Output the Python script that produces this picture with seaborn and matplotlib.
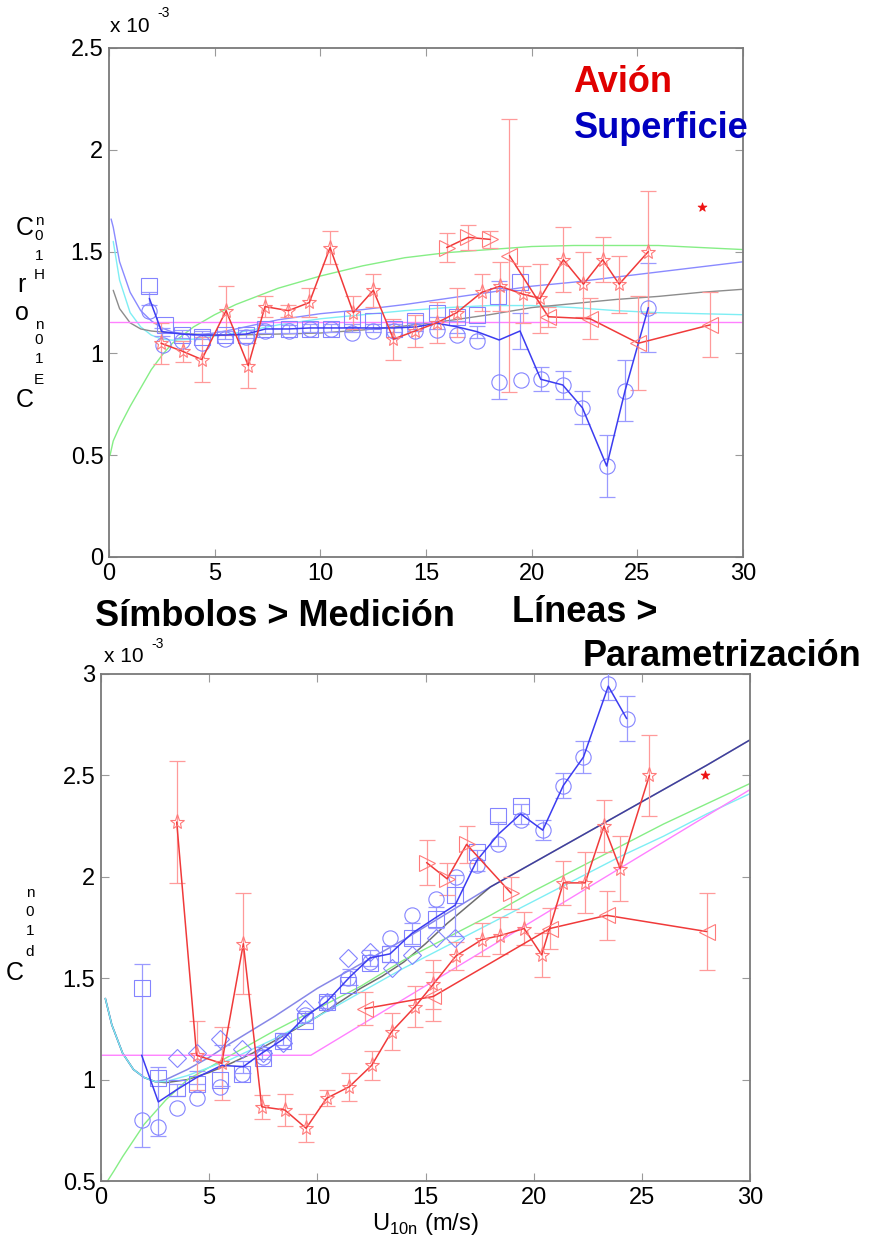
import matplotlib
matplotlib.use("Agg")
import matplotlib.pyplot as plt
import seaborn as sns

# ---------------- upper panel: C_H / C_E (x 1e-3) ----------------
top_star_x = [2.46, 3.49, 4.39, 5.54, 6.59, 7.38, 8.49, 9.48, 10.46, 11.56, 12.51, 13.46,
              14.48, 15.51, 16.45, 17.64, 18.50, 19.61, 20.40, 21.50, 22.45, 23.36, 24.14, 25.52]
top_star_y = [1.05, 1.01, 0.97, 1.21, 0.94, 1.23, 1.21, 1.25, 1.52, 1.20, 1.31, 1.07,
              1.11, 1.15, 1.20, 1.30, 1.33, 1.29, 1.27, 1.46, 1.34, 1.46, 1.34, 1.50]
top_star_err = [0.10, 0.05, 0.11, 0.12, 0.11, 0.05, 0.03, 0.07, 0.08, 0.08, 0.08, 0.10,
                0.08, 0.10, 0.12, 0.09, 0.12, 0.14, 0.17, 0.16, 0.16, 0.11, 0.14, 0.30]

top_rtri_x = [15.98, 17.00, 18.03]
top_rtri_y = [1.52, 1.57, 1.56]
top_rtri_err = [0.07, 0.06, 0.04]

top_ltri_x = [18.95, 20.79, 22.77, 25.05, 28.44]
top_ltri_y = [1.48, 1.18, 1.17, 1.05, 1.14]
top_ltri_err = [0.67, 0.05, 0.10, 0.23, 0.16]

top_circ_x = [1.91, 2.57, 3.44, 4.39, 5.50, 6.50, 7.40, 8.50, 9.50, 10.50, 11.50, 12.50, 13.50,
              14.50, 15.50, 16.45, 17.43, 18.46, 19.48, 20.43, 21.47, 22.40, 23.55, 24.42, 25.52]
top_circ_y = [1.21, 1.04, 1.06, 1.05, 1.07, 1.08, 1.11, 1.11, 1.12, 1.12, 1.10, 1.11, 1.11,
              1.11, 1.115, 1.09, 1.06, 0.86, 0.87, 0.873, 0.845, 0.733, 0.447, 0.817, 1.225]

top_sq_x = [1.91, 2.65, 3.44, 4.39, 5.50, 6.50, 7.40, 8.50, 9.50, 10.50, 11.49, 12.50,
            13.50, 14.50, 15.50, 16.45, 17.43, 18.42, 19.45]
top_sq_y = [1.33, 1.14, 1.09, 1.08, 1.09, 1.09, 1.12, 1.12, 1.12, 1.12, 1.17, 1.16,
            1.12, 1.16, 1.20, 1.18, 1.19, 1.28, 1.35]

top_bline_x = [1.91, 2.49, 3.44, 4.39, 5.50, 6.50, 7.40, 8.50, 9.50, 10.50, 11.50, 12.50, 13.50,
               14.50, 15.51, 16.45, 17.40, 18.46, 19.45, 20.43, 21.47, 22.40, 23.55, 24.42, 25.52]
top_bline_y = [1.27, 1.107, 1.095, 1.09, 1.09, 1.095, 1.12, 1.12, 1.125, 1.125, 1.125, 1.125, 1.125,
               1.13, 1.148, 1.131, 1.107, 1.066, 1.11, 0.873, 0.845, 0.733, 0.447, 0.817, 1.225]
top_bline_err = [0.03, 0.02, 0.02, 0.02, 0.02, 0.02, 0.02, 0.02, 0.02, 0.02, 0.02, 0.02, 0.02,
                 0.02, 0.03, 0.03, 0.03, 0.29, 0.09, 0.06, 0.07, 0.08, 0.15, 0.15, 0.22]

top_green_x = [0.05, 0.2, 0.5, 1, 1.5, 2, 2.5, 3, 4, 5, 6, 8, 10, 12, 14, 16, 18, 20, 22, 24, 26, 28, 30]
top_green_y = [0.50, 0.57, 0.64, 0.74, 0.83, 0.92, 0.99, 1.05, 1.13, 1.19, 1.24, 1.32, 1.38, 1.43,
               1.47, 1.495, 1.51, 1.525, 1.53, 1.53, 1.53, 1.52, 1.51]
top_blue_x = [0.1, 0.2, 0.5, 1, 1.5, 2, 2.5, 3, 4, 5, 6, 8, 10, 12, 14, 16, 18, 20, 22, 24, 26, 28, 30]
top_blue_y = [1.66, 1.62, 1.45, 1.30, 1.21, 1.16, 1.125, 1.105, 1.09, 1.10, 1.12, 1.165, 1.195,
              1.215, 1.24, 1.27, 1.30, 1.33, 1.35, 1.375, 1.40, 1.425, 1.45]
top_cyan_x = [0.2, 0.5, 1, 1.5, 2, 2.5, 3, 4, 5, 6, 8, 10, 12, 14, 16, 18, 20, 22, 24, 26, 28, 30]
top_cyan_y = [1.55, 1.36, 1.20, 1.13, 1.09, 1.07, 1.065, 1.07, 1.085, 1.10, 1.14, 1.17, 1.19,
              1.21, 1.225, 1.235, 1.235, 1.225, 1.21, 1.20, 1.195, 1.19]
top_gray_x = [0.2, 0.5, 1, 1.5, 2, 3, 4, 5, 6, 8, 10, 12, 14, 16, 18, 20, 22, 24, 26, 28, 30]
top_gray_y = [1.31, 1.22, 1.15, 1.12, 1.11, 1.10, 1.095, 1.09, 1.09, 1.095, 1.10, 1.115, 1.135,
              1.16, 1.19, 1.225, 1.245, 1.265, 1.28, 1.30, 1.315]
top_mag_x = [0.05, 30]
top_mag_y = [1.155, 1.155]

top_single = ([28.06], [1.72])

# ---------------- lower panel: C_D (x 1e-3) ----------------
bot_star_x = [3.50, 4.42, 5.58, 6.58, 7.43, 8.50, 9.48, 10.43, 11.48, 12.51, 13.44, 14.52,
              15.36, 16.41, 17.60, 18.45, 19.56, 20.37, 21.37, 22.38, 23.25, 24.00, 25.35]
bot_star_y = [2.27, 1.12, 1.08, 1.67, 0.866, 0.85, 0.76, 0.908, 0.965, 1.07, 1.237, 1.36,
              1.47, 1.61, 1.69, 1.71, 1.745, 1.615, 1.97, 1.97, 2.25, 2.04, 2.50]
bot_star_err = [0.30, 0.17, 0.18, 0.25, 0.06, 0.08, 0.07, 0.04, 0.07, 0.07, 0.09, 0.10,
                0.12, 0.07, 0.08, 0.09, 0.08, 0.11, 0.11, 0.15, 0.13, 0.16, 0.20]

bot_rtri_x = [15.05, 16.00, 16.90, 18.95]
bot_rtri_y = [2.07, 1.99, 2.16, 1.92]
bot_rtri_err = [0.11, 0.08, 0.09, 0.08]

bot_ltri_x = [12.20, 15.36, 20.75, 23.38, 28.00]
bot_ltri_y = [1.35, 1.41, 1.745, 1.81, 1.73]
bot_ltri_err = [0.08, 0.12, 0.10, 0.12, 0.19]

bot_bline_x = [1.88, 2.65, 3.50, 4.42, 5.58, 6.58, 7.43, 8.43, 9.43, 10.43, 11.51, 12.43,
               13.36, 14.36, 15.49, 16.37, 17.37, 18.37, 19.40, 20.42, 21.37, 22.30, 23.45, 24.30]
bot_bline_y = [1.12, 0.89, 0.95, 1.01, 1.07, 1.064, 1.13, 1.20, 1.31, 1.384, 1.507, 1.60,
               1.62, 1.72, 1.80, 1.86, 2.08, 2.21, 2.31, 2.23, 2.45, 2.59, 2.94, 2.78]
bot_bline_err = [0.45, 0.17, 0.03, 0.03, 0.10, 0.03, 0.03, 0.03, 0.03, 0.03, 0.04, 0.04,
                 0.04, 0.05, 0.05, 0.15, 0.05, 0.06, 0.05, 0.05, 0.06, 0.08, 0.07, 0.11]

bot_circ_x = [1.88, 2.65, 3.50, 4.42, 5.50, 6.50, 7.50, 8.43, 9.43, 10.43, 11.43, 12.43,
              13.36, 14.36, 15.49, 16.41, 17.40, 18.37, 19.40, 20.42, 21.37, 22.30, 23.45, 24.30]
bot_circ_y = [0.80, 0.768, 0.86, 0.91, 0.965, 1.03, 1.11, 1.19, 1.32, 1.38, 1.50, 1.58,
              1.70, 1.81, 1.89, 2.00, 2.06, 2.16, 2.28, 2.23, 2.45, 2.59, 2.95, 2.78]

bot_sq_x = [1.88, 2.65, 3.50, 4.42, 5.50, 6.50, 7.50, 8.43, 9.43, 10.43, 11.43, 12.43,
            13.36, 14.36, 15.49, 16.37, 17.40, 18.37, 19.40]
bot_sq_y = [1.45, 1.01, 0.96, 0.98, 1.00, 1.03, 1.105, 1.19, 1.29, 1.384, 1.466, 1.575,
            1.62, 1.70, 1.79, 1.91, 2.12, 2.30, 2.35]

bot_dia_x = [3.50, 4.42, 5.50, 6.50, 7.50, 8.43, 9.43, 10.43, 11.43, 12.43, 13.44, 14.36, 15.49, 16.37]
bot_dia_y = [1.105, 1.13, 1.20, 1.15, 1.13, 1.18, 1.35, 1.384, 1.60, 1.63, 1.55, 1.615, 1.70, 1.70]

bot_gray_x = [0.2, 0.5, 1, 1.5, 2, 2.5, 3, 4, 5, 6, 7, 8, 9, 10, 11, 12, 13, 14, 15, 16, 17, 18,
              20, 22, 24, 26, 28, 30]
bot_gray_y = [1.40, 1.27, 1.13, 1.05, 1.01, 0.99, 0.985, 1.00, 1.035, 1.08, 1.13, 1.19, 1.25, 1.31,
              1.38, 1.45, 1.51, 1.58, 1.67, 1.77, 1.86, 1.95, 2.07, 2.19, 2.31, 2.43, 2.55, 2.675]
bot_blue_x = [0.2, 0.5, 1, 1.5, 2, 2.5, 3, 4, 5, 6, 8, 10, 11, 12, 14, 16, 18, 20, 22, 24, 26, 28, 30]
bot_blue_y = [1.40, 1.27, 1.13, 1.05, 1.01, 0.99, 1.00, 1.05, 1.11, 1.18, 1.31, 1.45, 1.51, 1.57,
              1.69, 1.82, 1.95, 2.07, 2.19, 2.31, 2.43, 2.55, 2.675]
bot_green_x = [0.3, 0.6, 1, 1.5, 2, 3, 4, 5, 6, 8, 10, 12, 14, 16, 18, 20, 22, 24, 26, 28, 30]
bot_green_y = [0.50, 0.55, 0.62, 0.70, 0.78, 0.90, 1.00, 1.06, 1.12, 1.24, 1.35, 1.46, 1.59,
               1.70, 1.81, 1.93, 2.04, 2.15, 2.26, 2.36, 2.46]
bot_cyan_x = [0.2, 0.5, 1, 1.5, 2, 2.5, 3, 4, 6, 8, 10, 12, 14, 16, 18, 20, 22, 24, 26, 28, 30]
bot_cyan_y = [1.40, 1.27, 1.13, 1.05, 1.01, 0.99, 0.99, 1.02, 1.10, 1.20, 1.31, 1.43, 1.55,
              1.66, 1.77, 1.88, 1.99, 2.10, 2.20, 2.31, 2.41]
bot_mag_x = [0.05, 9.7, 30]
bot_mag_y = [1.12, 1.12, 2.43]

bot_single = ([27.93], [2.50])

x_ticks = [0, 5, 10, 15, 20, 25, 30]
top_yticks = [0, 0.5, 1, 1.5, 2, 2.5]
bot_yticks = [0.5, 1, 1.5, 2, 2.5, 3]

# ---------------- styling ----------------
RED_M = "#ff7a7a"
RED_L = "#f03a3a"
RED_E = "#ff9a9a"
BLUE_M = "#8484ff"
BLUE_L = "#3c3cf0"
BLUE_E = "#9a9aff"

sns.set_theme(style="ticks")
plt.rcParams["font.family"] = ["Liberation Sans", "DejaVu Sans"]
plt.rcParams["mathtext.fontset"] = "custom"
plt.rcParams["mathtext.rm"] = "Liberation Sans"
plt.rcParams["text.color"] = "black"
plt.rcParams["axes.labelcolor"] = "black"

W, H = 873, 1253
fig = plt.figure(figsize=(W / 100, H / 100), dpi=100)
fig.patch.set_facecolor("white")


def fx(px):
    return px / W


def fy(py):
    return 1 - py / H


ax1 = fig.add_axes([fx(109), fy(557), fx(743) - fx(109), fy(48) - fy(557)])
ax2 = fig.add_axes([fx(101), fy(1181), fx(750) - fx(101), fy(674) - fy(1181)])


def param(ax, x, y, color, lw=1.0, alpha=1.0, z=2):
    sns.lineplot(x=x, y=y, ax=ax, color=color, lw=lw, alpha=alpha, sort=False,
                 estimator=None, errorbar=None, legend=False, zorder=z)


def bars(ax, x, y, err, color):
    ax.errorbar(x, y, yerr=err, fmt="none", ecolor=color, elinewidth=0.9,
                capsize=6, capthick=0.9, zorder=3)


def marks(ax, x, y, marker, mcolor, lcolor=None, ms=10, z=4):
    sns.lineplot(x=x, y=y, ax=ax, sort=False, estimator=None, errorbar=None, legend=False,
                 color=lcolor if lcolor else mcolor, lw=1.1,
                 linestyle="-" if lcolor else "", marker=marker, markersize=ms,
                 markerfacecolor="none", markeredgecolor=mcolor, markeredgewidth=0.8, zorder=z)


# upper panel
param(ax1, top_green_x, top_green_y, "#86ee86")
param(ax1, top_cyan_x, top_cyan_y, "#7eeef4")
param(ax1, top_gray_x, top_gray_y, "#8c8c8c")
param(ax1, top_blue_x, top_blue_y, "#8a8aff")
param(ax1, top_mag_x, top_mag_y, "#ff80ff")

bars(ax1, top_bline_x, top_bline_y, top_bline_err, BLUE_E)
marks(ax1, top_sq_x, top_sq_y, "s", BLUE_M, ms=11)
marks(ax1, top_circ_x, top_circ_y, "o", BLUE_M, ms=11)
param(ax1, top_bline_x, top_bline_y, BLUE_L, lw=1.1, z=5)

bars(ax1, top_star_x, top_star_y, top_star_err, RED_E)
bars(ax1, top_rtri_x, top_rtri_y, top_rtri_err, RED_E)
bars(ax1, top_ltri_x, top_ltri_y, top_ltri_err, RED_E)
marks(ax1, top_star_x, top_star_y, "*", RED_M, RED_L, ms=11, z=6)
marks(ax1, top_rtri_x, top_rtri_y, ">", RED_M, RED_L, ms=12, z=6)
marks(ax1, top_ltri_x, top_ltri_y, "<", RED_M, RED_L, ms=12, z=6)
sns.scatterplot(x=top_single[0], y=top_single[1], ax=ax1, marker="*", s=45,
                color="#ee1111", edgecolor="#ee1111", legend=False, zorder=7)

# lower panel
param(ax2, bot_gray_x, bot_gray_y, "#6e6e6e", lw=1.1)
param(ax2, bot_blue_x, bot_blue_y, "#1010d0", lw=1.1, alpha=0.5)
param(ax2, bot_green_x, bot_green_y, "#86ee86")
param(ax2, bot_cyan_x, bot_cyan_y, "#7eeef4")
param(ax2, bot_mag_x, bot_mag_y, "#ff80ff")

bars(ax2, bot_bline_x, bot_bline_y, bot_bline_err, BLUE_E)
marks(ax2, bot_sq_x, bot_sq_y, "s", BLUE_M, ms=11)
marks(ax2, bot_circ_x, bot_circ_y, "o", BLUE_M, ms=11)
marks(ax2, bot_dia_x, bot_dia_y, "D", BLUE_M, ms=9)
param(ax2, bot_bline_x, bot_bline_y, BLUE_L, lw=1.1, z=5)

bars(ax2, bot_star_x, bot_star_y, bot_star_err, RED_E)
bars(ax2, bot_rtri_x, bot_rtri_y, bot_rtri_err, RED_E)
bars(ax2, bot_ltri_x, bot_ltri_y, bot_ltri_err, RED_E)
marks(ax2, bot_star_x, bot_star_y, "*", RED_M, RED_L, ms=11, z=6)
marks(ax2, bot_rtri_x, bot_rtri_y, ">", RED_M, RED_L, ms=12, z=6)
marks(ax2, bot_ltri_x, bot_ltri_y, "<", RED_M, RED_L, ms=12, z=6)
sns.scatterplot(x=bot_single[0], y=bot_single[1], ax=ax2, marker="*", s=45,
                color="#ee1111", edgecolor="#ee1111", legend=False, zorder=7)

for ax, yt, ylim in ((ax1, top_yticks, (0, 2.5)), (ax2, bot_yticks, (0.5, 3))):
    ax.set_xlim(0, 30)
    ax.set_ylim(*ylim)
    ax.set_xticks(x_ticks)
    ax.set_xticklabels([f"{v:g}" for v in x_ticks])
    ax.set_yticks(yt)
    ax.set_yticklabels([f"{v:g}" for v in yt])
    ax.set_xlabel("")
    ax.set_ylabel("")
    ax.set_facecolor("white")
    for s in ax.spines.values():
        s.set_visible(True)
        s.set_color("#7a7a7a")
        s.set_linewidth(1.3)
    ax.tick_params(direction="in", length=6, width=0.8, color="#9a9a9a",
                   top=True, right=True, labelsize=17, labelcolor="black", pad=4)

ax2.set_xlabel(r"U$_{\mathrm{10n}}$ (m/s)", fontsize=17, labelpad=2, color="black")

# scale factors above the axes
fig.text(fx(110), fy(26), "x 10", fontsize=15, ha="left", va="center")
fig.text(fx(157), fy(13), "-3", fontsize=10, ha="left", va="center")
fig.text(fx(104), fy(656), "x 10", fontsize=15, ha="left", va="center")
fig.text(fx(151), fy(644), "-3", fontsize=10, ha="left", va="center")

# stacked vertical axis labels
big, small = 18, 11
for ch, px, py, fs in [("C", 25, 228, big), ("n", 39, 221, small), ("0", 39, 236, small),
                       ("1", 39, 256, small), ("H", 39, 275, small), ("r", 21, 285, big),
                       ("o", 22, 313, big), ("n", 39, 325, small), ("0", 39, 340, small),
                       ("1", 39, 359, small), ("E", 39, 380, small), ("C", 25, 400, big)]:
    fig.text(fx(px), fy(py), ch, fontsize=fs, ha="center", va="center")
for ch, px, py, fs in [("C", 15, 973, big), ("n", 30, 893, small), ("0", 30, 912, small),
                       ("1", 30, 931, small), ("d", 30, 952, small)]:
    fig.text(fx(px), fy(py), ch, fontsize=fs, ha="center", va="center")

# annotations
fig.text(fx(573), fy(83), "Avión", fontsize=26, fontweight="bold", color="#e00000",
         ha="left", va="center")
fig.text(fx(574), fy(128), "Superficie", fontsize=26, fontweight="bold", color="#0000c0",
         ha="left", va="center")
fig.text(fx(95), fy(617), "Símbolos > Medición", fontsize=26, fontweight="bold",
         color="black", ha="left", va="center")
fig.text(fx(512), fy(612), "Líneas >", fontsize=26, fontweight="bold", color="black",
         ha="left", va="center")
fig.text(fx(583), fy(656), "Parametrización", fontsize=26, fontweight="bold", color="black",
         ha="left", va="center")

fig.savefig("out.png", dpi=100, facecolor="white")
